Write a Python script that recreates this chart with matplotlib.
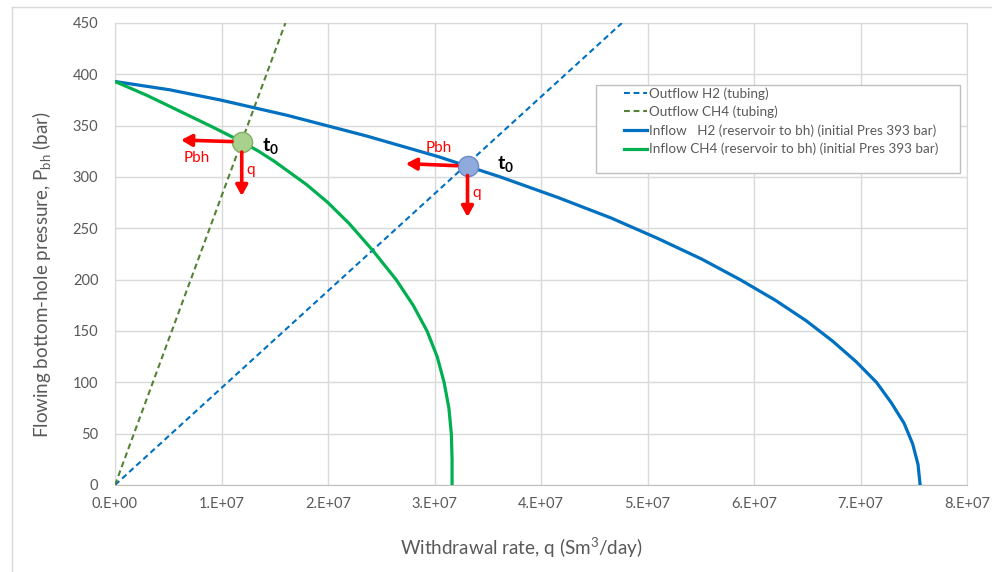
import numpy as np
import matplotlib
matplotlib.use('Agg')
import matplotlib.pyplot as plt
from matplotlib.patches import Rectangle
from matplotlib.lines import Line2D

# rates in 1E+07 Sm3/day, pressures in bar
h2_inflow_q = [0, 0.51, 0.99, 1.62, 2.36, 3.03, 3.62, 4.16, 4.66, 5.10, 5.51, 5.87,
               6.20, 6.49, 6.74, 6.96, 7.15, 7.29, 7.41, 7.49, 7.54, 7.56]
h2_inflow_p = [393, 385, 375, 360, 340, 320, 300, 280, 260, 240, 220, 200,
               180, 160, 140, 120, 100, 80, 60, 40, 20, 0]

ch4_inflow_q = [0, 0.3, 0.6, 0.9, 1.19, 1.35, 1.5, 1.8, 2.0, 2.2, 2.42, 2.64,
                2.80, 2.93, 3.025, 3.09, 3.135, 3.158, 3.165, 3.165]
ch4_inflow_p = [393, 379.5, 364.5, 349.5, 334.4, 325, 315, 292.5, 275, 254.5, 228.5, 200,
                175, 150, 125, 100, 75, 50, 25, 0]

h2_outflow_q = [0, 4.76]
h2_outflow_p = [0, 450]
ch4_outflow_q = [0, 1.60]
ch4_outflow_p = [0, 450]

t0_h2 = (3.31, 311)
t0_ch4 = (1.19, 334.4)

x_ticks = [0, 1, 2, 3, 4, 5, 6, 7, 8]
x_tick_labels = ['0.E+00', '1.E+07', '2.E+07', '3.E+07', '4.E+07',
                 '5.E+07', '6.E+07', '7.E+07', '8.E+07']
y_ticks = [0, 50, 100, 150, 200, 250, 300, 350, 400, 450]

SCALE = 1e7
BLUE = '#0070C0'
GREEN = '#00B050'
OLIVE = '#548235'
RED = '#FF0000'
TXT = '#595959'
GRID = '#D9D9D9'

plt.rcParams['font.family'] = ['Lato', 'DejaVu Sans']
plt.rcParams['mathtext.fontset'] = 'custom'
plt.rcParams['mathtext.rm'] = 'Lato'
plt.rcParams['mathtext.it'] = 'Lato:italic'
plt.rcParams['mathtext.bf'] = 'Lato:bold'


def sc(vals):
    return np.array(vals) * SCALE


fig = plt.figure(figsize=(9.92, 5.72), dpi=100)
ax = fig.add_axes([115/992, 87/572, 852/992, 462/572])

ax.plot(sc(h2_outflow_q), h2_outflow_p, color=BLUE, lw=1.5, dashes=(2.8, 1.8),
        label='Outflow H2 (tubing)', zorder=3)
ax.plot(sc(ch4_outflow_q), ch4_outflow_p, color=OLIVE, lw=1.5, dashes=(2.8, 1.8),
        label='Outflow CH4 (tubing)', zorder=3)
ax.plot(sc(h2_inflow_q), h2_inflow_p, color=BLUE, lw=2.3, solid_joinstyle='round',
        label='Inflow   H2 (reservoir to bh) (initial Pres 393 bar)', zorder=3)
ax.plot(sc(ch4_inflow_q), ch4_inflow_p, color=GREEN, lw=2.3, solid_joinstyle='round',
        label='Inflow CH4 (reservoir to bh) (initial Pres 393 bar)', zorder=3)

# operating points
ax.plot(t0_ch4[0]*SCALE, t0_ch4[1], 'o', ms=14.5, mfc='#A9D18E', mec='#7FAF5F', mew=1, zorder=6)
ax.plot(t0_h2[0]*SCALE, t0_h2[1], 'o', ms=14.5, mfc='#8FAADC', mec='#6A8BC9', mew=1, zorder=6)

arr = dict(arrowstyle='-|>,head_length=0.45,head_width=0.25', color=RED, lw=2.6,
           mutation_scale=14, shrinkA=0, shrinkB=0)


def mark(pbh_from, pbh_to, pbh_txt, q_from, q_to, q_txt, t_pos):
    ax.annotate('', xy=(pbh_to[0]*SCALE, pbh_to[1]), xytext=(pbh_from[0]*SCALE, pbh_from[1]),
                arrowprops=arr, zorder=7)
    ax.annotate('', xy=(q_to[0]*SCALE, q_to[1]), xytext=(q_from[0]*SCALE, q_from[1]),
                arrowprops=arr, zorder=7)
    ax.text(pbh_txt[0]*SCALE, pbh_txt[1], 'Pbh', color=RED, fontsize=11, ha='center', va='center', zorder=8)
    ax.text(q_txt[0]*SCALE, q_txt[1], 'q', color=RED, fontsize=11, ha='center', va='center', zorder=8)
    ax.text(t_pos[0]*SCALE, t_pos[1], r'$\mathbf{t_0}$', color='black', fontsize=14,
            ha='left', va='center', zorder=8)


mark((1.10, 334.5), (0.62, 336), (0.77, 318.5),
     (1.19, 324.3), (1.19, 281.5), (1.277, 306.8), (1.38, 330))
mark((3.21, 311), (2.73, 313), (3.04, 328),
     (3.31, 301.5), (3.31, 261), (3.40, 284.4), (3.59, 313))

ax.set_xlim(0, 8*SCALE)
ax.set_ylim(0, 450)
ax.set_xticks(np.array(x_ticks)*SCALE)
ax.set_xticklabels(x_tick_labels)
ax.set_yticks(y_ticks)
ax.tick_params(length=0, labelsize=10.5, labelcolor=TXT)
ax.tick_params(axis='x', pad=9)
ax.tick_params(axis='y', pad=12)
ax.grid(True, color=GRID, lw=1)
ax.set_axisbelow(True)
for s in ax.spines.values():
    s.set_color(GRID)
ax.spines['bottom'].set_color('#BFBFBF')

ax.set_xlabel('Withdrawal rate, q (Sm$^3$/day)', fontsize=13.6, color=TXT)
ax.xaxis.set_label_coords(0.4765, -0.136)
ax.xaxis.label.set_va('center')
ax.set_ylabel('Flowing bottom-hole pressure, P$_{\\rm bh}$ (bar)', fontsize=13.5, color=TXT)
ax.yaxis.set_label_coords(-0.0857, 0.4556)
ax.yaxis.label.set_va('center')

# legend box
ax.add_patch(Rectangle((0.5646, 0.675), 0.4272, 0.191, transform=ax.transAxes,
                       facecolor='white', edgecolor='#BFBFBF', lw=1, zorder=4))
leg = ax.legend(loc='upper left', bbox_to_anchor=(0.597, 0.8615), frameon=False,
                fontsize=9.7, labelcolor=TXT, handlelength=1.7, handletextpad=0.2,
                labelspacing=0.45, borderpad=0, borderaxespad=0)
leg.set_zorder(5)

# chart area border
fig.add_artist(Line2D([12/992, 1], [1-7/572, 1-7/572], transform=fig.transFigure, color=GRID, lw=1))
fig.add_artist(Line2D([12/992, 12/992], [0, 1-7/572], transform=fig.transFigure, color=GRID, lw=1))

fig.savefig('out.png', dpi=100)
